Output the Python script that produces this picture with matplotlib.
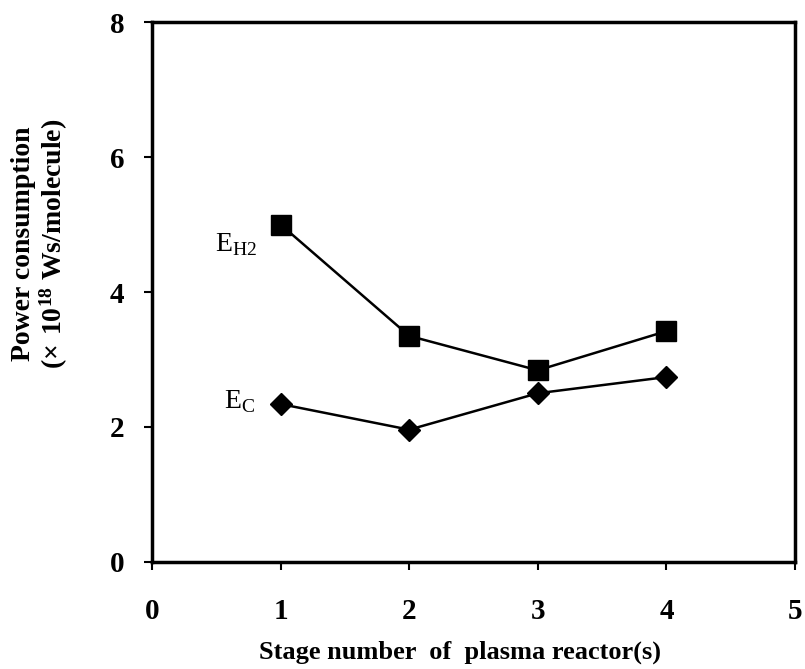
import matplotlib
matplotlib.use('Agg')
import matplotlib.pyplot as plt

# stage number and power consumption (x 10^18 Ws/molecule)
stages = [1, 2, 3, 4]
e_h2 = [5.0, 3.35, 2.84, 3.42]
e_c = [2.34, 1.96, 2.50, 2.74]

x_ticks = [0, 1, 2, 3, 4, 5]
y_ticks = [0, 2, 4, 6, 8]

plt.rcParams['font.family'] = ['Liberation Serif', 'DejaVu Serif']
plt.rcParams['mathtext.fontset'] = 'custom'
plt.rcParams['mathtext.rm'] = 'Liberation Serif'
plt.rcParams['mathtext.bf'] = 'Liberation Serif:bold'

fig = plt.figure(figsize=(8.05, 6.69), dpi=100)
ax = fig.add_axes([0.1888, 0.16, 0.7988, 0.807])

ax.plot(stages, e_h2, color='black', lw=1.8, marker='s', markersize=14)
ax.plot(stages, e_c, color='black', lw=1.8, marker='D', markersize=11)

ax.text(0.65, 4.70, r'E$_{\mathregular{H2}}$', fontsize=20, ha='center', va='center')
ax.text(0.68, 2.37, r'E$_{\mathregular{C}}$', fontsize=20, ha='center', va='center')

ax.set_xlim(0, 5)
ax.set_ylim(0, 8)
ax.set_xticks(x_ticks)
ax.set_yticks(y_ticks)
ax.tick_params(direction='out', length=6, width=1.5, labelsize=21)
ax.tick_params(axis='x', pad=20)
ax.tick_params(axis='y', pad=14)
for lbl in ax.get_xticklabels() + ax.get_yticklabels():
    lbl.set_fontweight('bold')
for sp in ax.spines.values():
    sp.set_linewidth(2.5)

ax.set_xlabel('Stage number  of  plasma reactor(s)', fontsize=19, fontweight='bold')
ax.xaxis.set_label_coords(0.479, -0.145)
ax.set_ylabel('Power consumption\n' + r'($\mathbf{\times\ 10^{18}}$ Ws/molecule)',
              fontsize=20, fontweight='bold', linespacing=1.05)
ax.yaxis.set_label_coords(-0.128, 0.59)

fig.savefig('out.png', dpi=100)
